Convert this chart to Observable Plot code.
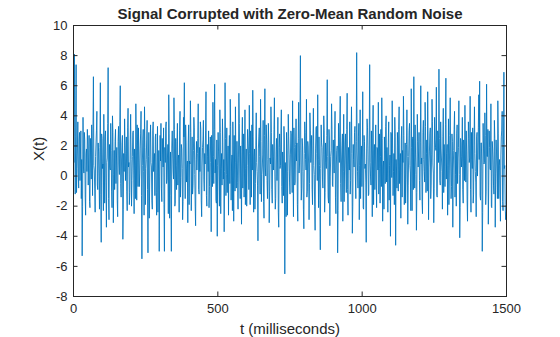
<!DOCTYPE html>
<html>
<head>
<meta charset="utf-8">
<script src="https://cdn.jsdelivr.net/npm/d3@7"></script>
<script src="https://cdn.jsdelivr.net/npm/@observablehq/plot@0.6"></script>
<style>
  body { margin: 0; background: #fff; }
  #chart svg { display: block; }
</style>
</head>
<body>
<div id="chart"></div>
<script>
const title = "Signal Corrupted with Zero-Mean Random Noise";
const xLabel = "t (milliseconds)";
const yLabel = "X(t)";
const xTicks = [0, 500, 1000, 1500];
const yTicks = [-8, -6, -4, -2, 0, 2, 4, 6, 8, 10];
const sampleStep = 1.5; // ms between plotted samples

// Noisy signal values: samples at t = 0, 3, 6, ... ms
const samplesA = [
  2.1, 8.1, -1.2, 7.4, 0.5, 3.6, -0.8, 2.9, 1.4, -1.5, -5.3, 3.9, 0.2, 2.4, -2.6, 1.8, 3.1, -0.6, 2.7, -2.1, 1.0, 3.4, -1.3, 6.6, 0.4,
  -2.4, 2.2, 4.3, -0.9, 1.6, -2.2, 6.2, -4.4, 2.5, 0.8, 4.1, -1.8, 3.0, -3.4, 1.2, 7.2, -2.9, 0.6, 3.5, -1.0, 4.0, -3.1, 1.7, 2.3, -0.5,
  1.9, -2.7, 3.3, 0.1, 6.0, -1.4, 2.2, -4.2, 1.5, 3.8, -0.3, 2.6, -2.3, 4.5, 0.9, -1.1, 4.1, -2.0, 1.3, 3.0, -2.5, 0.7, 4.8, -1.6, 2.0,
  3.2, -0.7, 1.8, 4.3, -5.5, 2.4, 0.3, 4.6, -1.9, 1.1, 3.7, -5.1, 2.9, -0.4, 3.4, 0.6, -2.2, 3.6, 1.0, -1.3, 2.8, -2.6, 3.3, 0.2, -5.0,
  2.7, 3.5, -1.7, 1.4, 3.2, -5.0, 0.9, 3.6, -0.2, 2.1, 5.4, -2.8, 1.6, -5.0, 3.0, 0.4, 5.2, -2.0, 2.5, -0.9, 3.5, 1.2, -2.4, 4.3, -0.1,
  1.8, -2.9, 3.9, 6.2, -1.5, 2.2, 0.5, -3.1, 3.4, 1.0, 5.0, -2.3, 2.6, -0.6, 3.9, 0.1, -3.3, 2.3, 1.5, 4.8, -1.2, 0.3, 3.1, -2.7, 1.9,
  3.7, -1.0, 0.8, 5.6, -2.0, 1.3, 3.0, -0.7, 2.6, -3.7, 1.7, 4.9, -0.5, 6.1, 1.1, -1.8, -4.0, 2.9, 0.0, 4.4, -2.5, 1.5, 3.8, -0.2, -3.7,
  6.2, -1.3, 3.2, 0.6, -2.6, 2.7, 5.1, -1.6, 1.4, 3.6, -3.0, 0.8, 4.6, -0.8, 2.3, -2.2, 5.5, 0.2, 2.0, -3.2, 3.9, 1.0, -1.4, 4.4, 0.5,
  -2.0, 3.1, 1.6, 4.7, -1.9, 0.9, 3.4, 5.7, -2.4, 1.8, -0.5, 4.2, 0.3, -4.3, 2.6, 1.3, 5.1, -1.7, 0.6, 3.7, -2.8, 5.8, 0.0, 2.4, -1.5,
  3.5, -3.1, 1.2, 4.6, -0.9, 2.1, 0.4, 5.2, -2.2, 1.6, -0.3, 3.9, -3.4, 2.8, 0.7, 4.4, -1.8, 1.0, 3.3, -6.5, 0.2, 2.9, -2.6, 4.1, 1.4,
  -1.2, 3.0, 0.6, 5.0, -2.7, 1.9, -0.4, 3.8, 2.2, -3.0, 4.9, 0.8, 8.0, -1.6, 2.5, 0.3, -3.5, 3.6, 1.1, 5.1, -1.0, 2.0, -2.9, 4.2, 0.9,
  2.7, -1.9, 4.5, 0.1, -3.6, 3.2, 1.5, 5.4, -2.1, 0.7, -4.9, 3.4, 1.9, -0.8, 4.0, -2.4, 2.2, 0.5, 6.4, -1.4, 3.1, -3.3, 1.3, 4.8, -0.6,
  2.4, 0.2, 4.3, -2.5, 1.7, -5.1, 3.5, 0.9, 5.3, -1.7, 2.0, -3.0, 4.1, 0.4, 2.8, -1.1, 5.5, -2.6, 1.2, 3.6, -0.3, 4.6, -3.8, 2.1, 0.6,
  3.3, -1.5, 8.2, 0.3, 2.6, -2.9, 4.4, 1.1, -0.7, 5.6, -2.2, 2.3, 0.8, -4.4, 3.8, 1.4, -1.2, 7.4, 0.0, 3.0, -2.7, 4.7, 1.6, -0.9, 3.4,
  -2.1, 1.8, 4.9, 0.5, -1.8, 3.1, 5.2, -3.0, 1.0, 2.6, -0.5, 4.0, 1.9, -2.4, 3.6, 0.7, -4.0, 2.8, 5.0, -1.3, 1.5, 3.9, -4.6, 0.4, 2.9,
  -1.0, 4.6, 0.9, -2.8, 3.3, 1.7, 5.3, -1.9, 2.2, -0.2, 4.4, -3.2, 1.3, 3.5, 0.2, 5.8, -2.3, 2.6, 6.6, -0.8, 1.4, -3.6, 4.1, 0.6, 2.9,
  -1.6, 6.0, 1.2, -2.5, 3.7, 0.3, 4.9, -1.1, 2.4, 5.6, -2.9, 1.6, 3.2, -0.6, 5.1, 0.8, -3.1, 3.9, 1.9, 5.9, -1.4, 2.7, 7.1, -0.3, 3.6,
  1.0, -2.2, 4.5, 2.1, -0.7, 6.5, 1.5, -2.6, 3.8, 0.4, 5.2, -1.5, 2.8, -3.4, 1.7, 4.3, 0.1, -2.0, 3.4, 1.2, 5.0, -4.1, 2.5, 0.6, 3.9,
  -1.8, 2.0, 4.7, -0.4, 1.6, -3.0, 3.6, 0.9, 5.3, -2.4, 1.1, 3.2, -1.2, 4.6, 0.3, -2.7, 2.9, 1.4, 5.4, 6.3, -1.6, 2.2, -5.0, 3.5, 0.8,
  4.2, -1.9, 6.1, 1.3, -3.2, 3.0, 0.5, 4.8, -2.1, 1.8, -0.6, 3.7, -3.4, 2.4, 0.2, 5.0, -1.5, 1.1, -3.0, 2.6, 4.3, -2.3, 6.9, 0.7, -2.9
];

// Samples in between: t = 1.5, 4.5, 7.5, ... ms
const samplesB = [
  0.9, 3.2, 2.6, -1.1, 1.8, 0.2, 2.4, -0.3, 3.0, 1.1, -2.0, 0.6, 2.9, -1.4, 1.5, 0.3, 2.0, 1.2, -1.7, 2.5, -0.2, 1.6, 3.3, 0.7, -0.8,
  1.3, 3.0, -0.6, 2.2, 0.0, 1.9, -1.2, 2.8, 0.5, -2.3, 1.4, 2.6, -0.4, 0.9, 3.5, -1.5, 2.1, 0.4, 1.7, -2.1, 2.9, 0.1, -0.9, 3.1, 1.0,
  -1.6, 2.3, 0.8, 3.6, -0.5, 1.2, 2.7, -2.2, 0.3, 2.0, 1.5, -1.0, 3.2, 0.6, -1.9, 2.4, 1.1, -0.3, 2.9, 0.4, 1.8, -1.5, 2.2, 3.4, -0.7,
  1.6, 0.2, 2.8, -1.3, 0.7, 3.1, -2.6, 1.9, 0.5, 2.4, -0.9, 1.3, -2.8, 2.2, 0.9, -1.6, 3.0, 0.3, 1.5, 2.6, -1.1, 0.8, -2.4, 1.7, 0.0,
  1.0, -0.8, 2.5, 0.6, -1.9, 1.9, 3.3, -0.5, 1.2, -2.5, 2.8, 0.4, -1.3, 2.0, 1.6, -0.2, 3.1, -1.8, 0.7, 2.3, -0.6, 1.4, 3.0, -1.4, 2.1,
  0.5, -1.7, 2.6, 1.2, 3.4, -0.4, 1.0, 2.2, -1.9, 0.8, 2.9, 0.0, -1.2, 1.7, 3.2, -2.0, 1.1, 0.4, 2.5, -0.9, 1.9, 3.6, -1.6, 0.6, 2.4,
  -0.2, 1.5, 3.0, -1.3, 2.1, 0.3, -2.1, 1.8, 0.9, 2.7, -0.7, 1.3, 3.1, 0.2, -1.6, 2.4, 0.7, 1.6, -2.0, 2.9, 0.5, -0.6, 2.2, 1.1, 0.3,
  2.5, 0.1, -1.1, 2.0, 1.4, -0.5, 3.3, 0.8, -2.3, 1.6, 2.7, -1.0, 0.9, 2.3, -0.4, 1.2, 3.5, -1.5, 0.6, 2.1, -0.8, 2.8, 0.2, -1.9, 1.8,
  0.7, 2.4, -0.9, 1.5, 3.0, -1.4, 0.4, 2.6, 1.3, -2.2, 2.0, 0.9, -0.6, 1.8, 3.2, -1.2, 2.3, 0.1, 1.4, -1.7, 2.7, 0.6, 3.4, -0.3, 1.1,
  2.2, -1.0, 0.8, 2.9, -1.8, 1.3, 3.1, 0.0, -1.5, 2.5, 1.0, -2.4, 1.9, 0.5, 2.8, -0.7, 1.6, -1.3, 2.4, 0.9, -2.7, 1.7, 0.3, 2.6, -0.4,
  1.4, 2.8, -1.1, 0.6, 3.2, -0.6, 2.1, 1.0, -1.9, 2.5, 0.2, 3.6, 1.2, -0.8, 2.0, -2.2, 1.5, 2.9, 0.4, -1.4, 2.3, 0.8, -0.5, 3.0, 1.6,
  -0.9, 2.0, 0.7, -2.0, 1.8, 3.3, -0.3, 1.1, 2.6, -1.6, 0.5, 2.2, -0.2, 1.4, 3.0, -1.1, 0.9, 2.7, 1.3, -1.8, 2.4, 0.0, 1.7, 3.1, -0.7,
  1.2, 2.5, -1.4, 0.8, 2.0, -2.3, 1.6, 3.4, -0.5, 1.0, 2.8, 0.3, -1.7, 2.2, 0.6, 3.1, -0.9, 1.9, 0.4, -1.2, 2.6, 1.5, -2.0, 1.1, 2.9,
  0.0, 2.3, 1.6, -0.8, 3.5, 0.7, -1.5, 2.0, 1.2, -2.1, 2.7, 0.5, -0.4, 1.8, 3.2, -1.3, 2.4, 0.9, -0.6, 1.4, 3.0, -1.9, 2.1, 0.8, -0.2,
  1.9, 0.4, -1.2, 2.8, 1.3, -0.7, 2.5, 0.6, -2.2, 1.7, 3.3, -0.4, 1.0, 2.2, -1.6, 1.4, 2.9, -0.1, 1.8, 0.3, -1.9, 2.6, 1.1, -0.8, 2.0,
  3.1, -0.5, 1.5, 2.4, -1.4, 0.9, 2.7, 0.2, -1.8, 2.1, 1.3, -0.6, 3.0, 0.7, -2.3, 1.9, 2.5, -0.9, 1.2, 3.4, 0.1, -1.1, 2.3, 1.6, -0.3,
  2.2, 0.8, -1.7, 2.9, 1.1, -0.4, 3.3, 1.5, -1.0, 2.0, 0.6, 2.8, -1.5, 1.4, 3.6, 0.2, -0.8, 2.4, 1.7, -1.3, 3.0, 0.9, 2.5, -0.6, 1.8,
  0.3, 2.6, -1.1, 1.2, 3.4, -0.2, 2.1, 0.7, -1.9, 2.7, 1.0, -0.7, 2.3, 0.4, 3.1, -1.4, 1.6, 2.8, -0.5, 1.9, 0.1, -2.1, 2.2, 1.3, -0.9,
  2.4, -0.3, 1.4, 3.0, -1.6, 0.8, 2.5, 1.2, -0.9, 2.9, 0.5, -1.8, 2.0, 1.5, -0.4, 2.6, 0.0, 3.2, 1.1, -1.3, 2.2, 0.6, -2.4, 1.8, 0.9,
  2.7, -1.0, 1.3, 3.1, -0.6, 1.9, 0.4, -2.0, 2.3, 1.0, -1.2, 2.5, 0.2, 1.6, -1.5, 2.8, 0.7, -0.8, 1.4, 3.0, -1.7, 2.1, 0.5, -1.9, -2.4
];

const signal = samplesA.flatMap((v, i) => [v, samplesB[i]]);
const data = signal.map((v, i) => ({t: i * sampleStep, x: v}));

const W = 560, H = 337;
const mL = 73, mR = 54, mT = 25, mB = 41;
const innerW = W - mL - mR, innerH = H - mT - mB;
const tickLen = 4.5;
const ink = "#262626";
const fmt = d => String(d);

const chart = Plot.plot({
  width: W,
  height: H,
  marginLeft: mL,
  marginRight: mR,
  marginTop: mT,
  marginBottom: mB,
  style: {fontFamily: "'Liberation Sans', Arial, sans-serif", fontSize: "13px", color: ink, background: "#fff", overflow: "visible"},
  x: {domain: [0, 1500]},
  y: {domain: [-8, 10]},
  marks: [
    Plot.line(data, {x: "t", y: "x", stroke: "#0072BD", strokeWidth: 0.85}),
    Plot.frame({stroke: ink, strokeWidth: 1}),
    // inward ticks on all four sides
    Plot.tickX(xTicks, {x: d => d, stroke: ink, insetTop: innerH - tickLen}),
    Plot.tickX(xTicks, {x: d => d, stroke: ink, insetBottom: innerH - tickLen}),
    Plot.tickY(yTicks, {y: d => d, stroke: ink, insetRight: innerW - tickLen}),
    Plot.tickY(yTicks, {y: d => d, stroke: ink, insetLeft: innerW - tickLen}),
    Plot.axisX(xTicks, {tickSize: 0, tickPadding: 7, tickFormat: fmt, fontSize: 13, fill: ink, label: null}),
    Plot.axisY(yTicks, {tickSize: 0, tickPadding: 6, tickFormat: fmt, fontSize: 13, fill: ink, label: null}),
    Plot.text([xLabel], {text: d => d, frameAnchor: "bottom", dy: 33, fontSize: 15, fill: ink, lineAnchor: "middle"}),
    Plot.text([yLabel], {text: d => d, frameAnchor: "left", dx: -34, rotate: -90, fontSize: 15, fill: ink, lineAnchor: "middle"}),
    Plot.text([title], {text: d => d, frameAnchor: "top", dy: -11, fontSize: 15, fontWeight: "bold", fill: ink, lineAnchor: "middle"})
  ]
});

document.getElementById("chart").appendChild(chart);
</script>
</body>
</html>
